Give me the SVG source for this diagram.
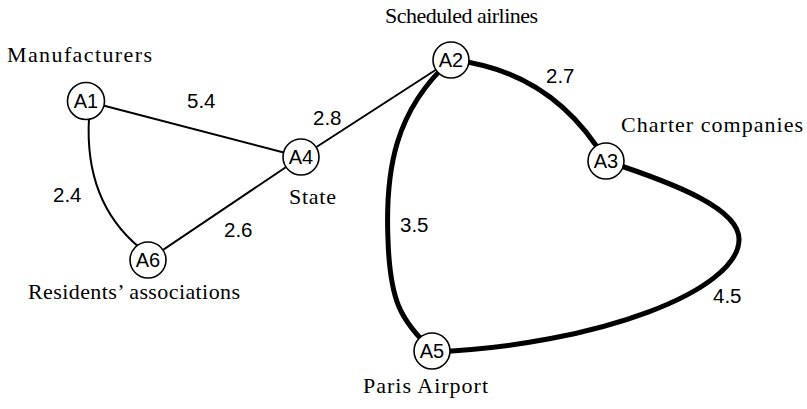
<svg xmlns="http://www.w3.org/2000/svg" width="807" height="409" viewBox="0 0 807 409">
<style>
.thin{fill:none;stroke:#000;stroke-width:2}
.thick{fill:none;stroke:#000;stroke-width:5}
.node circle{fill:#fff;stroke:#000;stroke-width:1.6}
.node text{font-family:"Liberation Sans",Arial,sans-serif;font-size:20px;text-anchor:middle}
.lab{font-family:"Liberation Serif","Times New Roman",serif;font-size:22px}
.num{font-family:"Liberation Sans",Arial,sans-serif;font-size:20.5px}
</style>
<rect width="807" height="409" fill="#fff"/>
<g id="connectors">
<path class="thin" d="M86,101 L301,157"/>
<path class="thin" d="M89,118 C86,170 100,215 140,248"/>
<path class="thin" d="M301,157 L148,260"/>
<path class="thin" d="M301,157 L451,60"/>
<path class="thick" d="M451,60 Q552,70 606,161"/>
<path class="thick" d="M451,60 C395,110 385,170 388,240 C390,300 400,320 432,350"/>
<path class="thick" d="M606,161 C680,185 740,210 739,240 C738,290 600,345 432,352"/>
</g>
<g id="A1" class="node"><circle cx="86" cy="101" r="18.5"/><text x="86" y="108">A1</text></g>
<g id="A2" class="node"><circle cx="451" cy="60" r="18"/><text x="451" y="67">A2</text></g>
<g id="A3" class="node"><circle cx="606" cy="161" r="18"/><text x="606" y="168">A3</text></g>
<g id="A4" class="node"><circle cx="301" cy="157" r="18"/><text x="301" y="164">A4</text></g>
<g id="A5" class="node"><circle cx="432" cy="351" r="18"/><text x="432" y="358">A5</text></g>
<g id="A6" class="node"><circle cx="148" cy="260" r="18"/><text x="148" y="267">A6</text></g>
<g id="labels">
<text class="lab" x="7" y="62" textLength="145">Manufacturers</text>
<text class="lab" x="385" y="23" textLength="153">Scheduled airlines</text>
<text class="lab" x="621" y="132" textLength="182">Charter companies</text>
<text class="lab" x="289" y="204" textLength="47">State</text>
<text class="lab" x="28" y="299" textLength="212">Residents’ associations</text>
<text class="lab" x="363" y="393" textLength="125">Paris Airport</text>
<text class="num" x="187" y="108">5.4</text>
<text class="num" x="53" y="202">2.4</text>
<text class="num" x="313" y="125">2.8</text>
<text class="num" x="224" y="237">2.6</text>
<text class="num" x="546" y="83">2.7</text>
<text class="num" x="400" y="232">3.5</text>
<text class="num" x="713" y="303">4.5</text>
</g>
</svg>
